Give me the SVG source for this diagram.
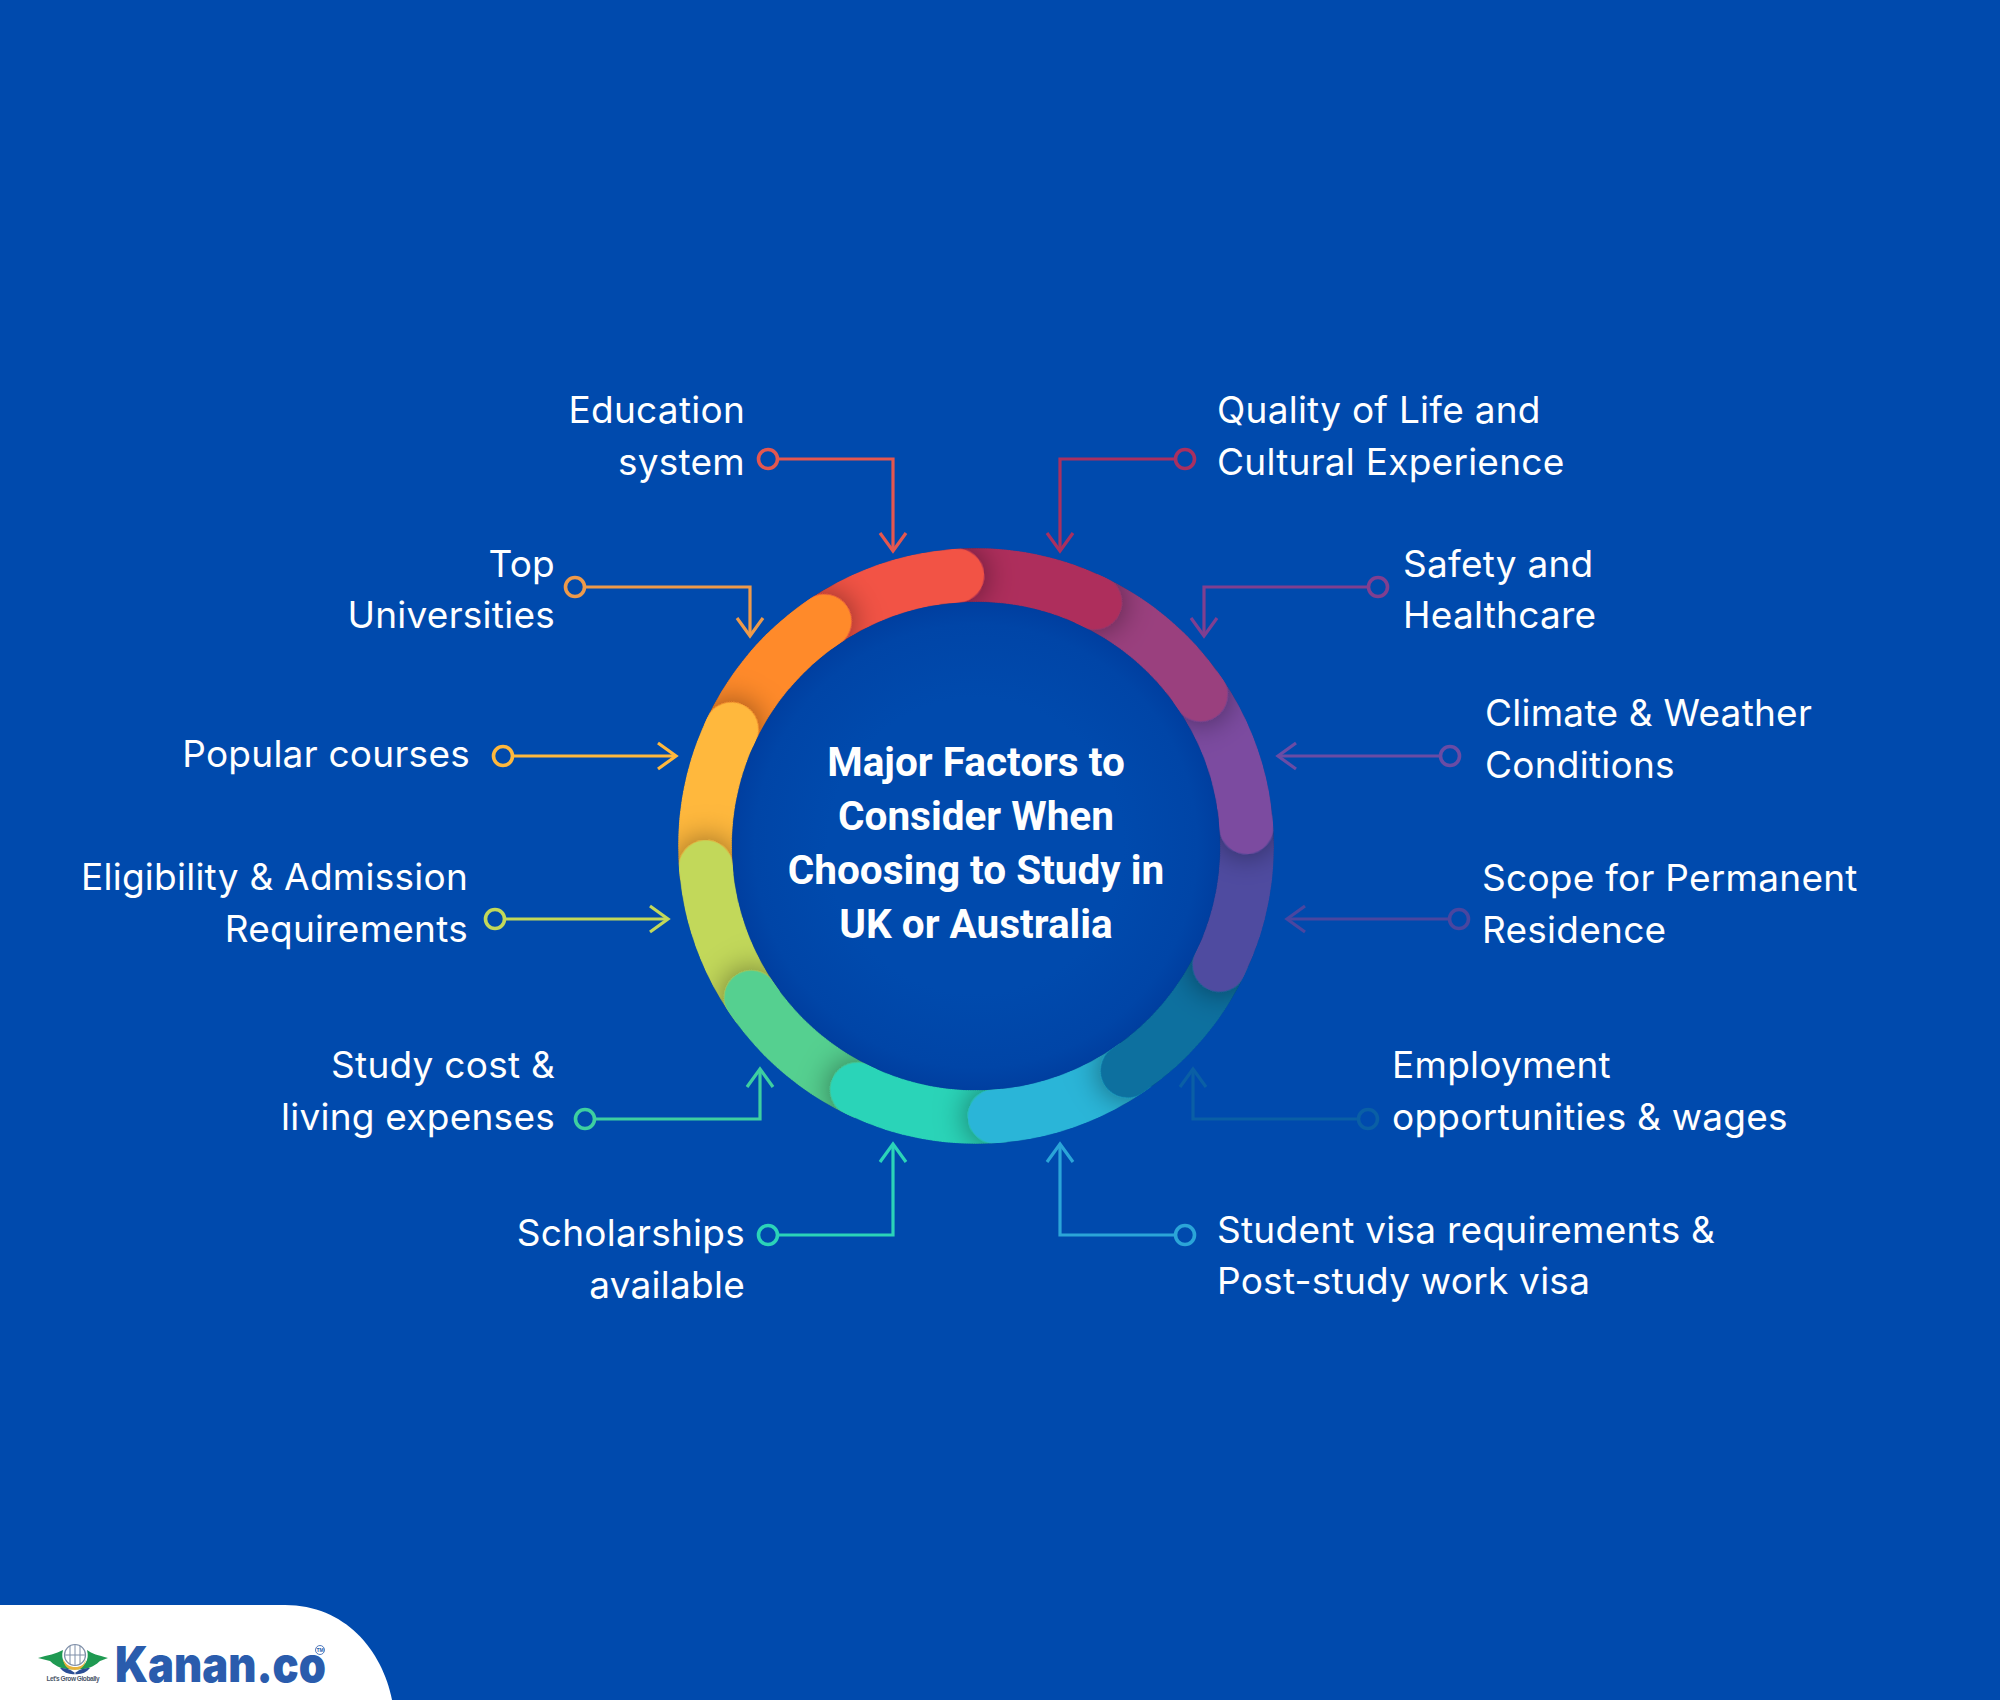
<svg xmlns="http://www.w3.org/2000/svg" width="2000" height="1700" viewBox="0 0 2000 1700">
<style>
.lbl{font-family:"Inter","Liberation Sans",sans-serif;font-size:37px;fill:#fff;letter-spacing:.25px}
.r{text-anchor:end}
.ttl{font-family:"Roboto","Liberation Sans",sans-serif;font-weight:700;font-size:40.5px;fill:#fff;text-anchor:middle}
.c{fill:none;stroke-width:3.2;marker-end:url(#arr)}
.d{fill:#004AAD;stroke-width:3.6}
</style>
<defs>
<marker id="arr" markerUnits="userSpaceOnUse" markerWidth="24" markerHeight="32" viewBox="-21 -16 24 32" refX="0" refY="0" orient="auto" overflow="visible"><path d="M-18 -13L0 0L-18 13" fill="none" stroke="context-stroke" stroke-width="3.2"/></marker>
<path id="seg" d="M-157.9 -252.7A298 298 0 0 1 0 -298A27 27 0 0 1 0 -244A244 244 0 0 0 -129.3 -206.9Z"/>
<filter id="sh" x="-60%" y="-60%" width="220%" height="220%"><feDropShadow dx="0" dy="0" stdDeviation="16" flood-color="#000" flood-opacity=".5"/></filter>
<clipPath id="ringclip"><path clip-rule="evenodd" d="M-298 0A298 298 0 1 1 298 0A298 298 0 1 1 -298 0ZM-244 0A244 244 0 1 0 244 0A244 244 0 1 0 -244 0Z"/></clipPath>
<clipPath id="wedge"><path d="M0 0L-306 -257L-69 -394Z"/></clipPath>
<radialGradient id="disc" gradientUnits="userSpaceOnUse" cx="0" cy="0" r="246"><stop offset=".6" stop-color="#004AAD"/><stop offset=".9" stop-color="#0045A7"/><stop offset="1" stop-color="#003E9F"/></radialGradient>
</defs>
<rect id="background" width="2000" height="1700" fill="#004AAD"/>
<g id="connectors">
<g><path class="c" stroke="#E4574F" d="M778 459H893V551"/><circle class="d" stroke="#E4574F" cx="768" cy="459" r="9.5"/></g>
<g><path class="c" stroke="#A93060" d="M1175 459H1060V551"/><circle class="d" stroke="#A93060" cx="1185" cy="459" r="9.5"/></g>
<g><path class="c" stroke="#EE9A4A" d="M585 587H750V636"/><circle class="d" stroke="#EE9A4A" cx="575" cy="587" r="9.5"/></g>
<g><path class="c" stroke="#803F90" d="M1368 587H1204V636"/><circle class="d" stroke="#803F90" cx="1378" cy="587" r="9.5"/></g>
<g><path class="c" stroke="#FFB83D" d="M513 756H676"/><circle class="d" stroke="#FFB83D" cx="503" cy="756" r="9.5"/></g>
<g><path class="c" stroke="#6A4CA5" d="M1440 756H1278"/><circle class="d" stroke="#6A4CA5" cx="1450" cy="756" r="9.5"/></g>
<g><path class="c" stroke="#C2D85A" d="M505 919H668"/><circle class="d" stroke="#C2D85A" cx="495" cy="919" r="9.5"/></g>
<g><path class="c" stroke="#4A46A0" d="M1449 919H1287"/><circle class="d" stroke="#4A46A0" cx="1459" cy="919" r="9.5"/></g>
<g><path class="c" stroke="#3ECFA0" d="M595 1119H760V1069"/><circle class="d" stroke="#3ECFA0" cx="585" cy="1119" r="9.5"/></g>
<g><path class="c" stroke="#0A5FA5" d="M1358 1119H1193V1069"/><circle class="d" stroke="#0A5FA5" cx="1368" cy="1119" r="9.5"/></g>
<g><path class="c" stroke="#2BD4B8" d="M778 1235H893V1144"/><circle class="d" stroke="#2BD4B8" cx="768" cy="1235" r="9.5"/></g>
<g><path class="c" stroke="#2BA5D8" d="M1175 1235H1060V1144"/><circle class="d" stroke="#2BA5D8" cx="1185" cy="1235" r="9.5"/></g>
</g>
<g id="ring" transform="translate(976 846)">
<circle id="ring-disc" r="246" fill="url(#disc)"/>
<g clip-path="url(#ringclip)">
<g id="seg-orange" fill="#FF8A2B"><use href="#seg" transform="rotate(326)" filter="url(#sh)"/></g>
<g id="seg-yellow" fill="#FFB83D"><use href="#seg" transform="rotate(295.5)" filter="url(#sh)"/></g>
<g id="seg-lime" fill="#C2D85A"><use href="#seg" transform="rotate(265.5)" filter="url(#sh)"/></g>
<g id="seg-green" fill="#55D090"><use href="#seg" transform="rotate(236)" filter="url(#sh)"/></g>
<g id="seg-seafoam" fill="#2BD4B8"><use href="#seg" transform="rotate(206)" filter="url(#sh)"/></g>
<g id="seg-blue" fill="#2BB5D8"><use href="#seg" transform="rotate(176)" filter="url(#sh)"/></g>
<g id="seg-darkteal" fill="#08709F"><use href="#seg" transform="rotate(146)" filter="url(#sh)"/></g>
<g id="seg-indigo" fill="#504CA0"><use href="#seg" transform="rotate(116)" filter="url(#sh)"/></g>
<g id="seg-purple" fill="#7B4CA0"><use href="#seg" transform="rotate(86)" filter="url(#sh)"/></g>
<g id="seg-magenta" fill="#9A3F7E"><use href="#seg" transform="rotate(56)" filter="url(#sh)"/></g>
<g id="seg-crimson" fill="#AE2F5C"><use href="#seg" transform="rotate(26)" filter="url(#sh)"/></g>
<g id="seg-red" fill="#F25244"><use href="#seg" transform="rotate(-4)" filter="url(#sh)"/></g>
<g id="seg-orange-head" fill="#FF8A2B" clip-path="url(#wedge)"><use href="#seg" transform="rotate(326)" filter="url(#sh)"/></g>
</g>
</g>
<g id="node-title"><text class="ttl" x="976" y="776">Major Factors to</text><text class="ttl" x="976" y="830">Consider When</text><text class="ttl" x="976" y="884">Choosing to Study in</text><text class="ttl" x="976" y="938">UK or Australia</text></g>
<g id="node-education"><text class="lbl r" x="745" y="423">Education</text><text class="lbl r" x="745" y="475">system</text></g>
<g id="node-quality"><text class="lbl" x="1217" y="423">Quality of Life and</text><text class="lbl" x="1217" y="475">Cultural Experience</text></g>
<g id="node-universities"><text class="lbl r" x="555" y="577">Top</text><text class="lbl r" x="555" y="628">Universities</text></g>
<g id="node-safety"><text class="lbl" x="1403" y="577">Safety and</text><text class="lbl" x="1403" y="628">Healthcare</text></g>
<g id="node-courses"><text class="lbl r" x="470" y="767">Popular courses</text></g>
<g id="node-climate"><text class="lbl" x="1485" y="726">Climate &amp; Weather</text><text class="lbl" x="1485" y="778">Conditions</text></g>
<g id="node-eligibility"><text class="lbl r" x="468" y="890">Eligibility &amp; Admission</text><text class="lbl r" x="468" y="942">Requirements</text></g>
<g id="node-residence"><text class="lbl" x="1482" y="891">Scope for Permanent</text><text class="lbl" x="1482" y="943">Residence</text></g>
<g id="node-cost"><text class="lbl r" x="555" y="1078">Study cost &amp;</text><text class="lbl r" x="555" y="1130">living expenses</text></g>
<g id="node-employment"><text class="lbl" x="1392" y="1078">Employment</text><text class="lbl" x="1392" y="1130">opportunities &amp; wages</text></g>
<g id="node-scholarships"><text class="lbl r" x="745" y="1246">Scholarships</text><text class="lbl r" x="745" y="1298">available</text></g>
<g id="node-visa"><text class="lbl" x="1217" y="1243">Student visa requirements &amp;</text><text class="lbl" x="1217" y="1294">Post-study work visa</text></g>
<g id="logo">
<path d="M0 1605H285C345 1605 382 1650 392 1700H0Z" fill="#fff"/>
<path d="M38 1658C48 1655 56 1654 63 1650C60 1660 66 1668 75 1669C62 1671 53 1664 50 1661C46 1660 42 1659 38 1658Z" fill="#1F9A52"/>
<path d="M108 1658C98 1655 92 1654 87 1650C90 1660 84 1668 75 1669C88 1671 97 1664 100 1661C103 1660 105 1659 108 1658Z" fill="#1F9A52"/>
<path d="M63 1659C66 1665 70 1667 75 1667C81 1667 84 1665 86 1659C85 1667 80 1670 75 1670C69 1670 64 1667 63 1659Z" fill="#E6B33C"/>
<circle cx="75" cy="1655" r="10.5" fill="#fff" stroke="#7F8FA8" stroke-width="1.2"/>
<path d="M75 1645V1665M70 1646V1664M80 1646V1664M65 1655H85" stroke="#7F8FA8" stroke-width="1" fill="none"/>
<path d="M60 1668C67 1668 72 1670 76 1674C70 1675 64 1673 60 1668ZM90 1668C83 1668 78 1670 74 1674C80 1675 86 1673 90 1668Z" fill="#2A4E96"/>
<text x="46.5" y="1681" font-family="Liberation Sans,sans-serif" font-size="6.5" font-weight="700" fill="#4A5568" textLength="53">Let's Grow Globally</text>
<text x="115" y="1682" font-family="Inter,Liberation Sans,sans-serif" font-size="49" font-weight="900" fill="#2A5CAD" textLength="211" lengthAdjust="spacingAndGlyphs">Kanan.co</text>
<circle cx="320" cy="1650" r="4.5" fill="#fff" stroke="#2A5CAD" stroke-width=".8"/>
<text x="320" y="1652" font-family="Liberation Sans,sans-serif" font-size="5" font-weight="700" fill="#2A5CAD" text-anchor="middle">TM</text>
</g>
</svg>
